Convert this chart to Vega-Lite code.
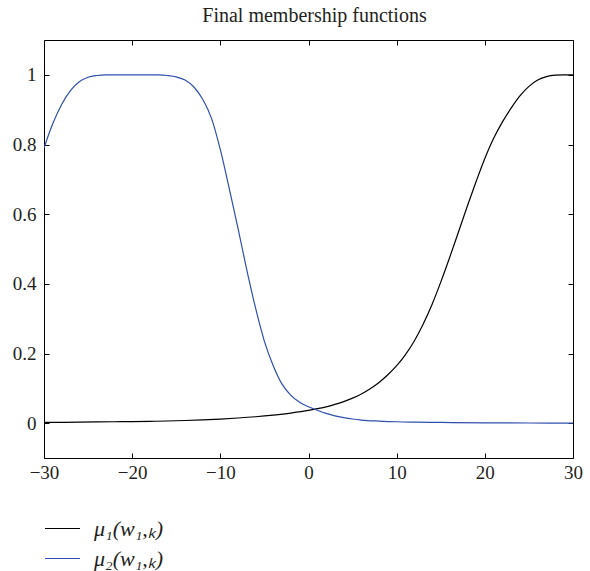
{
  "$schema": "https://vega.github.io/schema/vega-lite/v6.json",
  "width": 529,
  "height": 418,
  "autosize": {"type": "none"},
  "padding": {"left": 44, "top": 40, "right": 17, "bottom": 113},
  "background": "#ffffff",
  "title": {"text": "Final membership functions", "font": "Liberation Serif", "fontSize": 20, "fontWeight": "normal", "color": "#231f20", "offset": 14, "dx": 6},
  "config": {
    "view": {"stroke": "#000000", "strokeWidth": 1},
    "axis": {"labelFont": "Liberation Serif", "labelFontSize": 19, "labelColor": "#231f20", "tickColor": "#000000", "tickSize": -5, "domain": false, "grid": false, "title": null, "ticks": true}
  },
  "data": {"values": [
    {"x": -30, "y": 0.002, "s": "μ₁(w₁,ₖ)"},
    {"x": -28, "y": 0.0025, "s": "μ₁(w₁,ₖ)"},
    {"x": -26, "y": 0.003, "s": "μ₁(w₁,ₖ)"},
    {"x": -24, "y": 0.0035, "s": "μ₁(w₁,ₖ)"},
    {"x": -22, "y": 0.004, "s": "μ₁(w₁,ₖ)"},
    {"x": -20, "y": 0.0045, "s": "μ₁(w₁,ₖ)"},
    {"x": -18, "y": 0.0052, "s": "μ₁(w₁,ₖ)"},
    {"x": -16, "y": 0.0062, "s": "μ₁(w₁,ₖ)"},
    {"x": -14, "y": 0.0077, "s": "μ₁(w₁,ₖ)"},
    {"x": -12, "y": 0.0095, "s": "μ₁(w₁,ₖ)"},
    {"x": -10, "y": 0.0118, "s": "μ₁(w₁,ₖ)"},
    {"x": -8, "y": 0.0148, "s": "μ₁(w₁,ₖ)"},
    {"x": -6, "y": 0.0185, "s": "μ₁(w₁,ₖ)"},
    {"x": -4, "y": 0.0232, "s": "μ₁(w₁,ₖ)"},
    {"x": -2, "y": 0.029, "s": "μ₁(w₁,ₖ)"},
    {"x": 0, "y": 0.0365, "s": "μ₁(w₁,ₖ)"},
    {"x": 1, "y": 0.0415, "s": "μ₁(w₁,ₖ)"},
    {"x": 2, "y": 0.047, "s": "μ₁(w₁,ₖ)"},
    {"x": 3, "y": 0.054, "s": "μ₁(w₁,ₖ)"},
    {"x": 4, "y": 0.062, "s": "μ₁(w₁,ₖ)"},
    {"x": 5, "y": 0.072, "s": "μ₁(w₁,ₖ)"},
    {"x": 6, "y": 0.084, "s": "μ₁(w₁,ₖ)"},
    {"x": 7, "y": 0.099, "s": "μ₁(w₁,ₖ)"},
    {"x": 8, "y": 0.117, "s": "μ₁(w₁,ₖ)"},
    {"x": 9, "y": 0.139, "s": "μ₁(w₁,ₖ)"},
    {"x": 10, "y": 0.165, "s": "μ₁(w₁,ₖ)"},
    {"x": 11, "y": 0.197, "s": "μ₁(w₁,ₖ)"},
    {"x": 12, "y": 0.236, "s": "μ₁(w₁,ₖ)"},
    {"x": 13, "y": 0.284, "s": "μ₁(w₁,ₖ)"},
    {"x": 14, "y": 0.34, "s": "μ₁(w₁,ₖ)"},
    {"x": 15, "y": 0.405, "s": "μ₁(w₁,ₖ)"},
    {"x": 16, "y": 0.475, "s": "μ₁(w₁,ₖ)"},
    {"x": 17, "y": 0.548, "s": "μ₁(w₁,ₖ)"},
    {"x": 18, "y": 0.622, "s": "μ₁(w₁,ₖ)"},
    {"x": 19, "y": 0.693, "s": "μ₁(w₁,ₖ)"},
    {"x": 20, "y": 0.76, "s": "μ₁(w₁,ₖ)"},
    {"x": 21, "y": 0.818, "s": "μ₁(w₁,ₖ)"},
    {"x": 22, "y": 0.865, "s": "μ₁(w₁,ₖ)"},
    {"x": 23, "y": 0.905, "s": "μ₁(w₁,ₖ)"},
    {"x": 24, "y": 0.94, "s": "μ₁(w₁,ₖ)"},
    {"x": 25, "y": 0.967, "s": "μ₁(w₁,ₖ)"},
    {"x": 26, "y": 0.985, "s": "μ₁(w₁,ₖ)"},
    {"x": 27, "y": 0.995, "s": "μ₁(w₁,ₖ)"},
    {"x": 28, "y": 0.999, "s": "μ₁(w₁,ₖ)"},
    {"x": 29, "y": 1.0, "s": "μ₁(w₁,ₖ)"},
    {"x": 30, "y": 1.0, "s": "μ₁(w₁,ₖ)"},
    {"x": -30, "y": 0.79, "s": "μ₂(w₁,ₖ)"},
    {"x": -29, "y": 0.86, "s": "μ₂(w₁,ₖ)"},
    {"x": -28, "y": 0.915, "s": "μ₂(w₁,ₖ)"},
    {"x": -27, "y": 0.955, "s": "μ₂(w₁,ₖ)"},
    {"x": -26, "y": 0.98, "s": "μ₂(w₁,ₖ)"},
    {"x": -25, "y": 0.993, "s": "μ₂(w₁,ₖ)"},
    {"x": -24, "y": 0.998, "s": "μ₂(w₁,ₖ)"},
    {"x": -23, "y": 1.0, "s": "μ₂(w₁,ₖ)"},
    {"x": -20, "y": 1.0, "s": "μ₂(w₁,ₖ)"},
    {"x": -17, "y": 1.0, "s": "μ₂(w₁,ₖ)"},
    {"x": -16, "y": 0.998, "s": "μ₂(w₁,ₖ)"},
    {"x": -15, "y": 0.994, "s": "μ₂(w₁,ₖ)"},
    {"x": -14, "y": 0.985, "s": "μ₂(w₁,ₖ)"},
    {"x": -13, "y": 0.965, "s": "μ₂(w₁,ₖ)"},
    {"x": -12, "y": 0.93, "s": "μ₂(w₁,ₖ)"},
    {"x": -11, "y": 0.875, "s": "μ₂(w₁,ₖ)"},
    {"x": -10, "y": 0.785, "s": "μ₂(w₁,ₖ)"},
    {"x": -9, "y": 0.675, "s": "μ₂(w₁,ₖ)"},
    {"x": -8, "y": 0.56, "s": "μ₂(w₁,ₖ)"},
    {"x": -7, "y": 0.44, "s": "μ₂(w₁,ₖ)"},
    {"x": -6, "y": 0.33, "s": "μ₂(w₁,ₖ)"},
    {"x": -5, "y": 0.235, "s": "μ₂(w₁,ₖ)"},
    {"x": -4, "y": 0.165, "s": "μ₂(w₁,ₖ)"},
    {"x": -3, "y": 0.112, "s": "μ₂(w₁,ₖ)"},
    {"x": -2, "y": 0.08, "s": "μ₂(w₁,ₖ)"},
    {"x": -1, "y": 0.06, "s": "μ₂(w₁,ₖ)"},
    {"x": 0, "y": 0.047, "s": "μ₂(w₁,ₖ)"},
    {"x": 1, "y": 0.037, "s": "μ₂(w₁,ₖ)"},
    {"x": 2, "y": 0.028, "s": "μ₂(w₁,ₖ)"},
    {"x": 3, "y": 0.021, "s": "μ₂(w₁,ₖ)"},
    {"x": 4, "y": 0.016, "s": "μ₂(w₁,ₖ)"},
    {"x": 5, "y": 0.012, "s": "μ₂(w₁,ₖ)"},
    {"x": 6, "y": 0.009, "s": "μ₂(w₁,ₖ)"},
    {"x": 8, "y": 0.006, "s": "μ₂(w₁,ₖ)"},
    {"x": 10, "y": 0.004, "s": "μ₂(w₁,ₖ)"},
    {"x": 12, "y": 0.003, "s": "μ₂(w₁,ₖ)"},
    {"x": 15, "y": 0.002, "s": "μ₂(w₁,ₖ)"},
    {"x": 20, "y": 0.001, "s": "μ₂(w₁,ₖ)"},
    {"x": 25, "y": 0.0005, "s": "μ₂(w₁,ₖ)"},
    {"x": 30, "y": 0.0, "s": "μ₂(w₁,ₖ)"}
  ]},
  "layer": [
    {
      "mark": {"type": "line", "strokeWidth": 1.2, "clip": true, "interpolate": "monotone"},
      "encoding": {
        "x": {"field": "x", "type": "quantitative", "scale": {"domain": [-30, 30], "nice": false, "zero": false},
              "axis": {"orient": "bottom", "values": [-30, -20, -10, 0, 10, 20, 30], "labelPadding": 10, "labelFlush": false}},
        "y": {"field": "y", "type": "quantitative", "scale": {"domain": [-0.1, 1.1], "nice": false, "zero": false},
              "axis": {"orient": "left", "values": [0, 0.2, 0.4, 0.6, 0.8, 1], "format": "~f", "labelPadding": 13, "labelFlush": false}},
        "color": {"field": "s", "type": "nominal",
                  "scale": {"domain": ["μ₁(w₁,ₖ)", "μ₂(w₁,ₖ)"], "range": ["#000000", "#2f4fae"]},
                  "legend": {"title": null, "orient": "none", "legendX": 0, "legendY": 470, "direction": "vertical",
                             "symbolType": "stroke", "symbolSize": 1225, "symbolStrokeWidth": 1.2, "labelOffset": 13, "rowPadding": -11,
                             "labelFont": "Liberation Serif", "labelFontSize": 22, "labelFontStyle": "italic", "labelColor": "#231f20", "labelLimit": 300}}
      }
    },
    {
      "mark": {"type": "line", "opacity": 0, "interpolate": "monotone"},
      "encoding": {
        "x": {"field": "x", "type": "quantitative", "scale": {"domain": [-30, 30], "nice": false, "zero": false},
              "axis": {"orient": "top", "values": [-30, -20, -10, 0, 10, 20, 30], "labels": false}},
        "y": {"field": "y", "type": "quantitative", "scale": {"domain": [-0.1, 1.1], "nice": false, "zero": false},
              "axis": {"orient": "right", "values": [0, 0.2, 0.4, 0.6, 0.8, 1], "labels": false}},
        "detail": {"field": "s", "type": "nominal"}
      }
    }
  ],
  "resolve": {"axis": {"x": "independent", "y": "independent"}}
}
